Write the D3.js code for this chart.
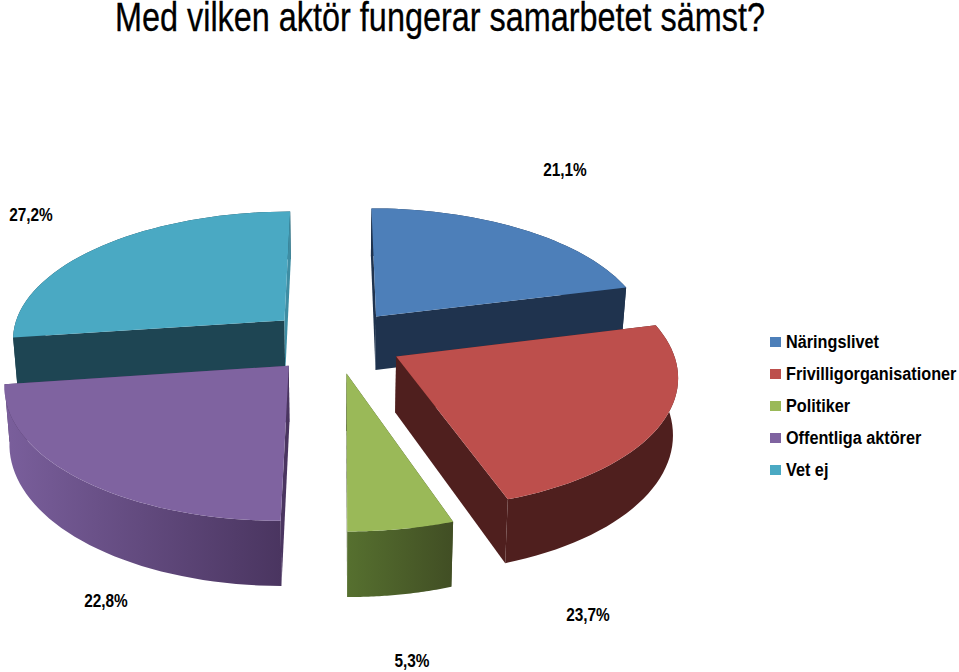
<!doctype html>
<html lang="en">
<head>
<meta charset="utf-8">
<title>Med vilken aktör fungerar samarbetet sämst?</title>
<script src="https://cdn.jsdelivr.net/npm/d3@7/dist/d3.min.js"></script>
<style>
  html, body { margin: 0; padding: 0; background: #fff; }
  svg { display: block; }
  text { font-family: "Liberation Sans", Arial, sans-serif; fill: #000; }
  .lab { font-weight: bold; font-size: 19px; }
</style>
</head>
<body>
<script>
var titleText = "Med vilken aktör fungerar samarbetet sämst?";
var categories = ["Näringslivet", "Frivilligorganisationer", "Politiker", "Offentliga aktörer", "Vet ej"];
var values = [21.1, 23.7, 5.3, 22.8, 27.2];
var valueLabels = ["21,1%", "23,7%", "5,3%", "22,8%", "27,2%"];
var topColors = ["#4d7fb9", "#bd4f4c", "#9ab958", "#7f63a0", "#4aa9c3"];
var wallFrom = ["#1f334e", "#4f1f1e", "#56702f", "#7a5f9c", "#1e4553"];
var wallTo = ["#1f334e", "#4f1f1e", "#414e24", "#4a3560", "#1e4553"];

var width = 959, height = 672;
var svg = d3.select("body").append("svg").attr("width", width).attr("height", height);
var defs = svg.append("defs");

// fake 3d: pie angles pushed through a small perspective
var cx = 335, cy = 341, k = 0.13, depth = 55, explode = 0.25;
var sx = d3.scaleLinear().domain([-1, 1]).range([-274, 274]);
var sy = d3.scaleLinear().domain([-1, 1]).range([-128, 128]);

function project(u, v, low) {
    var s = 1 / (1 - k * v);
    // the underside sits a little further from the camera
    return [cx + sx(u) * s * (low ? 0.985 : 1), cy + sy(v) * s + (low ? depth * s : 0)];
}

var slices = d3.pie().sort(null).value(function(d) { return d; })(values);
var line = d3.line();

slices.forEach(function(d, i) {
    var mid = (d.startAngle + d.endAngle) / 2;
    d.index = i;
    d.ou = Math.sin(mid) * explode;
    d.ov = -Math.cos(mid) * explode;
    d.apex = function(low) { return project(d.ou, d.ov, low); };
    d.rim = function(low) {
        return d3.range(0, 41).map(function(n) {
            var a = d.startAngle + (d.endAngle - d.startAngle) * n / 40;
            return project(d.ou + Math.sin(a), d.ov - Math.cos(a), low);
        });
    };
    defs.append("linearGradient").attr("id", "wall" + i)
        .selectAll("stop").data([wallFrom[i], wallTo[i]]).enter().append("stop")
        .attr("offset", function(c, n) { return n ? "100%" : "0%"; })
        .attr("stop-color", function(c) { return c; });
});

// back slices first, front ones paint over them
var order = [4, 0, 3, 2, 1];
var pie3d = svg.append("g");
order.forEach(function(i) {
    var d = slices[i], g = pie3d.append("g");
    var top = d.rim(false), low = d.rim(true);
    var first = top[0], last = top[top.length - 1];
    var lowFirst = low[0], lowLast = low[low.length - 1];
    var isBack = i == 0 || i == 4;

    function roundWall() {
        g.append("path").attr("d", line(top.concat(low.slice().reverse())) + "Z")
            .attr("fill", "url(#wall" + i + ")");
    }
    if (isBack) roundWall();
    [[first, lowFirst], [last, lowLast]].forEach(function(e, n) {
        var sliver = i == 4 && n == 1; // the teal edge by the top is lit in the original
        g.append("path").attr("d", line([d.apex(false), e[0], e[1], d.apex(true)]) + "Z")
            .attr("fill", sliver ? d3.color(topColors[i]).darker(0.5) : wallTo[i]);
    });
    if (!isBack) roundWall();
    g.append("path").attr("d", line([d.apex(false)].concat(top)) + "Z")
        .attr("fill", topColors[i]);
});

svg.append("text").text(titleText)
    .attr("x", 115).attr("y", 30.5)
    .attr("font-size", 40)
    .attr("stroke", "#000").attr("stroke-width", 0.3)
    .attr("textLength", 650).attr("lengthAdjust", "spacingAndGlyphs");

// value labels, placed by hand like the original
var labelSpots = [[565, 176], [588, 621], [412, 667], [106, 607], [31, 221]];
svg.append("g").selectAll("text").data(valueLabels).enter().append("text")
    .attr("class", "lab")
    .attr("text-anchor", "middle")
    .attr("transform", function(d, i) { return "translate(" + labelSpots[i] + ") scale(0.81,1)"; })
    .text(function(d) { return d; });

var legendY = d3.scalePoint().domain(categories).range([342, 470]);
var legend = svg.append("g").selectAll("g").data(categories).enter().append("g")
    .attr("transform", function(d) { return "translate(770," + legendY(d) + ")"; });
legend.append("rect").attr("x", 0).attr("y", -5).attr("width", 11).attr("height", 10)
    .attr("fill", function(d, i) { return topColors[i]; });
legend.append("text").attr("class", "lab")
    .attr("transform", "translate(16,6) scale(0.855,1)")
    .text(function(d) { return d; });
</script>
</body>
</html>
